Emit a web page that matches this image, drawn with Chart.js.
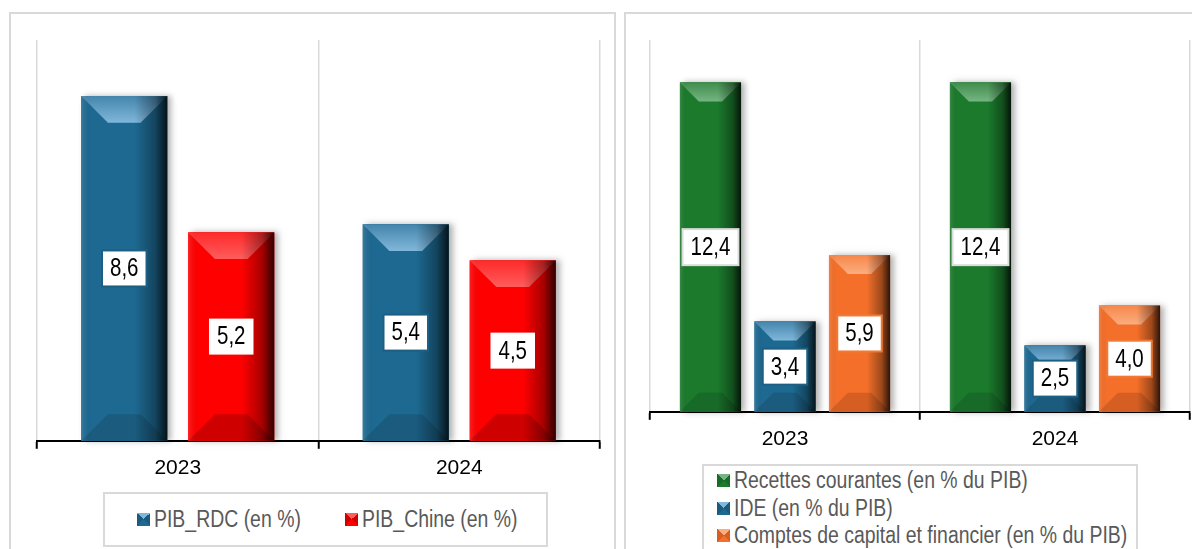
<!DOCTYPE html>
<html lang="fr">
<head>
<meta charset="utf-8">
<title>PIB et flux extérieurs</title>
<script src="https://cdn.jsdelivr.net/npm/chart.js@4.4.1/dist/chart.umd.min.js"></script>
<style>
  html, body { margin: 0; padding: 0; background: #fff; width: 1192px; height: 549px; overflow: hidden; }
  body { position: relative; font-family: "Liberation Sans", Arial, sans-serif; }
  .cadre { position: absolute; border: 2px solid #d9d9d9; box-sizing: border-box; }
  #cadreGauche { left: 9px; top: 12px; width: 607px; height: 560px; }
  #cadreDroit { left: 624px; top: 12px; width: 600px; height: 560px; }
  canvas { position: absolute; }
  #chartPIB { left: 11px; top: 14px; }
  #chartBP { left: 626px; top: 14px; }
  .legende { position: absolute; border: 2px solid #d9d9d9; box-sizing: border-box; color: #595959; font-size: 23px; background: #fff; }
  #legendePIB { left: 103px; top: 492px; width: 445px; height: 55px; display: flex; justify-content: center; align-items: center; gap: 44px; padding-left: 4px; }
  #legendeBP { left: 702px; top: 464px; width: 436px; height: 90px; padding: 1px 0 0 13px; }
  .item { display: flex; align-items: center; white-space: nowrap; line-height: 27.5px; }
  .puce { width: 13px; height: 13px; margin-right: 4px; flex: none; }
  .texte { display: inline-block; transform: scaleX(0.845); transform-origin: left center; }
</style>
</head>
<body>
<div class="cadre" id="cadreGauche"></div>
<div class="cadre" id="cadreDroit"></div>
<canvas id="chartPIB" width="600" height="474"></canvas>
<canvas id="chartBP" width="566" height="445"></canvas>
<div class="legende" id="legendePIB"></div>
<div class="legende" id="legendeBP"></div>
<script>
// Années
const annees = ["2023", "2024"];

// Croissance du PIB (en %)
const pibRDC = [8.6, 5.4];
const pibChine = [5.2, 4.5];

// Balance des paiements (en % du PIB)
const recettesCourantes = [12.4, 12.4];
const ide = [3.4, 2.5];
const comptesCapital = [5.9, 4.0];

const POLICE = "'Liberation Sans', Arial, sans-serif";
const ETROIT = 0.82;      // resserrement horizontal des étiquettes
const ETROIT_LEG = 0.845; // idem pour la légende

// teintes : base, facette haute (clair), facette basse (sombre)
const BLEU = { base: "#1d6991", clair: "#80b7da", haut: "#4585ac", bas: "#1a5b7e", cadre: "#1d5f82" };
const ROUGE = { base: "#ff0000", clair: "#ff5c5c", haut: "#ff2a2a", bas: "#cf0000", cadre: null };
const VERT = { base: "#1b7a2c", clair: "#76b582", haut: "#3f8d4c", bas: "#176a27", cadre: "#dcdcdc" };
const ORANGE = { base: "#f36f2a", clair: "#fbad80", haut: "#f6884a", bas: "#d55f22", cadre: "#f07a35" };

const virgule = v => v.toFixed(1).replace(".", ",");

// barres en biseau + étiquettes de valeur
const biseau = {
    id: "biseau",
    afterDatasetsDraw(chart) {
        const ctx = chart.ctx;
        chart.data.datasets.forEach((ds, i) => {
            const t = ds.teintes;
            chart.getDatasetMeta(i).data.forEach((bar, j) => {
                const { x, y, base, width } = bar.getProps(["x", "y", "base", "width"], true);
                const g = x - width / 2, d = x + width / 2;
                const bev = Math.min(width * 0.31, (base - y) / 2);

                ctx.save();
                ctx.shadowColor = "rgba(0,0,0,0.3)";
                ctx.shadowBlur = 6;
                ctx.shadowOffsetX = 4;
                ctx.fillStyle = t.base;
                ctx.fillRect(g, y, width, base - y);
                ctx.restore();

                // facette haute
                let grad = ctx.createLinearGradient(0, y, 0, y + bev);
                grad.addColorStop(0, t.haut);
                grad.addColorStop(1, t.clair);
                ctx.fillStyle = grad;
                ctx.beginPath();
                ctx.moveTo(g, y); ctx.lineTo(d, y);
                ctx.lineTo(d - bev, y + bev); ctx.lineTo(g + bev, y + bev);
                ctx.closePath(); ctx.fill();

                // facette basse
                ctx.fillStyle = t.bas;
                ctx.beginPath();
                ctx.moveTo(g, base); ctx.lineTo(d, base);
                ctx.lineTo(d - bev, base - bev); ctx.lineTo(g + bev, base - bev);
                ctx.closePath(); ctx.fill();

                // ombrage horizontal
                grad = ctx.createLinearGradient(g, 0, d, 0);
                grad.addColorStop(0, "rgba(255,255,255,0.12)");
                grad.addColorStop(0.12, "rgba(0,0,0,0)");
                grad.addColorStop(0.62, "rgba(0,0,0,0)");
                grad.addColorStop(0.86, "rgba(0,0,0,0.35)");
                grad.addColorStop(1, "rgba(0,0,0,0.82)");
                ctx.fillStyle = grad;
                ctx.fillRect(g, y, width, base - y);

                // étiquette
                const txt = virgule(ds.data[j]);
                ctx.font = "25px " + POLICE;
                const tw = ctx.measureText(txt).width * ETROIT;
                const bw = tw + 16, bh = 36, cy = (y + base) / 2;
                ctx.fillStyle = "#fff";
                ctx.fillRect(x - bw / 2, cy - bh / 2, bw, bh);
                if (t.cadre) {
                    ctx.strokeStyle = t.cadre;
                    ctx.lineWidth = 2;
                    ctx.strokeRect(x - bw / 2, cy - bh / 2, bw, bh);
                }
                ctx.save();
                ctx.translate(x, cy + 1);
                ctx.scale(ETROIT, 1);
                ctx.fillStyle = "#000";
                ctx.textAlign = "center";
                ctx.textBaseline = "middle";
                ctx.fillText(txt, 0, 0);
                ctx.restore();
            });
        });
    }
};

function options(ymax, pad) {
    return {
        responsive: false,
        animation: false,
        devicePixelRatio: 1,
        layout: { padding: pad },
        plugins: { legend: { display: false }, tooltip: { enabled: false } },
        scales: {
            x: {
                grid: { color: "#d9d9d9", lineWidth: 1.5, tickColor: "#000", tickWidth: 2, tickLength: 8, offset: true },
                border: { color: "#000", width: 2 },
                ticks: { color: "#000", padding: 7, font: { family: POLICE, size: 21 } }
            },
            y: { display: false, min: 0, max: ymax }
        }
    };
}

function legende(id, datasets) {
    const el = document.getElementById(id);
    datasets.forEach(ds => {
        const t = ds.teintes;
        const item = document.createElement("div");
        item.className = "item";
        const puce = document.createElement("span");
        puce.className = "puce";
        puce.style.background = `conic-gradient(from -45deg, ${t.clair} 0 90deg, ${t.bas} 90deg 180deg, ${t.base} 180deg 270deg, ${t.bas} 270deg 360deg)`;
        const texte = document.createElement("span");
        texte.className = "texte";
        texte.textContent = ds.label;
        item.appendChild(puce);
        item.appendChild(texte);
        el.appendChild(item);
        // compense la largeur perdue par le resserrement
        texte.style.marginRight = (-texte.offsetWidth * (1 - ETROIT_LEG)) + "px";
    });
}

document.addEventListener("DOMContentLoaded", () => {

    const dsPIB = [
        { label: "PIB_RDC (en %)", data: pibRDC, backgroundColor: BLEU.base, teintes: BLEU },
        { label: "PIB_Chine (en %)", data: pibChine, backgroundColor: ROUGE.base, teintes: ROUGE }
    ];
    dsPIB.forEach(ds => { ds.barPercentage = 0.804; ds.categoryPercentage = 0.76; });

    new Chart(document.getElementById("chartPIB"), {
        type: "bar",
        data: { labels: annees, datasets: dsPIB },
        options: options(10, { left: 26, right: 11, top: 26, bottom: 0 }),
        plugins: [biseau]
    });

    const dsBP = [
        { label: "Recettes courantes (en % du PIB)", data: recettesCourantes, backgroundColor: VERT.base, teintes: VERT },
        { label: "IDE (en % du PIB)", data: ide, backgroundColor: BLEU.base, teintes: BLEU },
        { label: "Comptes de capital et financier (en % du PIB)", data: comptesCapital, backgroundColor: ORANGE.base, teintes: ORANGE }
    ];
    dsBP.forEach(ds => { ds.barPercentage = 0.82; ds.categoryPercentage = 0.828; });

    new Chart(document.getElementById("chartBP"), {
        type: "bar",
        data: { labels: annees, datasets: dsBP },
        options: options(14, { left: 24, right: 2, top: 26, bottom: 0 }),
        plugins: [biseau]
    });

    legende("legendePIB", dsPIB);
    legende("legendeBP", dsBP);
});
</script>
</body>
</html>
